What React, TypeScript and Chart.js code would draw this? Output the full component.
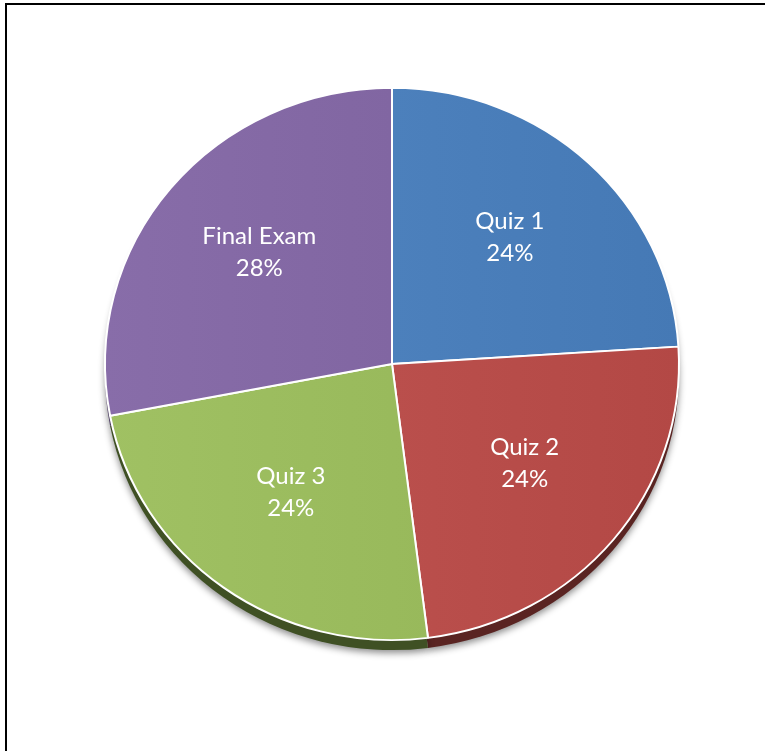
import React, { useEffect, useRef } from "react";
import { Chart, registerables } from "chart.js";

Chart.register(...registerables);

const categories = ["Quiz 1", "Quiz 2", "Quiz 3", "Final Exam"];
const values = [24, 24, 24, 28];
const faceColors = ["#4b7fbb", "#b94e4b", "#98b95b", "#8065a1"];
const sideColors = ["#2a4a70", "#5a2422", "#3f5024", "#4a3a60"];

const SQUASH = 0.962;
const DEPTH = 10;
const LABEL_FRACTION = 0.6;

function shade(hex: string, amt: number) {
  const n = parseInt(hex.slice(1), 16);
  const r = (n >> 16) & 255, g = (n >> 8) & 255, b = n & 255;
  const f = (c: number) => Math.max(0, Math.min(255, Math.round(c + amt)));
  return `rgb(${f(r)},${f(g)},${f(b)})`;
}

const pie3d = {
  id: "pie3d",
  beforeDatasetsDraw(chart: any) {
    const ctx = chart.ctx;
    const meta = chart.getDatasetMeta(0);
    const arcs = meta.data;
    if (!arcs.length) return;
    const p0 = arcs[0].getProps(["x", "y"], true);
    const cx = p0.x, cy = p0.y;
    ctx.save();
    ctx.translate(cx, cy);
    ctx.scale(1, SQUASH);
    ctx.translate(-cx, -cy);
    ctx.save();
    ctx.shadowColor = "rgba(0,0,0,0.45)";
    ctx.shadowBlur = 7;
    ctx.shadowOffsetY = 3;
    arcs.forEach((arc: any, i: number) => {
      const p = arc.getProps(["x", "y", "startAngle", "endAngle", "outerRadius"], true);
      const dy = DEPTH / SQUASH;
      ctx.beginPath();
      ctx.moveTo(p.x, p.y + dy);
      ctx.arc(p.x, p.y + dy, p.outerRadius, p.startAngle, p.endAngle);
      ctx.closePath();
      ctx.fillStyle = sideColors[i];
      ctx.fill();
    });
    ctx.restore();
  },
  afterDatasetsDraw(chart: any) {
    const ctx = chart.ctx;
    ctx.restore();
    const meta = chart.getDatasetMeta(0);
    const total = values.reduce((a, b) => a + b, 0);
    ctx.save();
    ctx.fillStyle = "#ffffff";
    ctx.font = "24px Lato";
    ctx.textAlign = "center";
    ctx.textBaseline = "middle";
    meta.data.forEach((arc: any, i: number) => {
      const p = arc.getProps(["x", "y", "startAngle", "endAngle", "outerRadius"], true);
      const mid = (p.startAngle + p.endAngle) / 2;
      const d = p.outerRadius * LABEL_FRACTION;
      const lx = p.x + Math.cos(mid) * d;
      const ly = p.y - 6 + Math.sin(mid) * d * SQUASH;
      const pct = Math.round((values[i] / total) * 100) + "%";
      ctx.fillText(categories[i], lx, ly - 16);
      ctx.fillText(pct, lx, ly + 16);
    });
    ctx.restore();
  },
};

export default function App() {
  const ref = useRef<HTMLCanvasElement>(null);
  useEffect(() => {
    if (!ref.current) return;
    const chart = new Chart(ref.current, {
      type: "pie",
      data: {
        labels: categories,
        datasets: [
          {
            data: values,
            backgroundColor: (c: any) => {
              const area = c.chart.chartArea;
              const base = faceColors[c.dataIndex % faceColors.length];
              if (!area) return base;
              const g = c.chart.ctx.createLinearGradient(area.left, 0, area.right, 0);
              g.addColorStop(0, shade(base, 8));
              g.addColorStop(1, shade(base, -6));
              return g;
            },
            borderColor: "#ffffff",
            borderWidth: 2,
            hoverOffset: 0,
            clip: false as any,
          },
        ],
      },
      options: {
        responsive: false,
        animation: false,
        layout: { padding: { left: 104, right: 85, top: 76, bottom: 99 } },
        plugins: {
          legend: { display: false },
          tooltip: { enabled: false },
        },
      },
      plugins: [pie3d],
    });
    return () => chart.destroy();
  }, []);

  return (
    <div>
      <div
        style={{
          position: "fixed",
          left: 5,
          top: 3,
          right: 0,
          bottom: 0,
          borderLeft: "2px solid #000",
          borderTop: "2px solid #000",
          background: "#fff",
        }}
      />
      <canvas
        ref={ref}
        width={765}
        height={751}
        style={{ position: "fixed", left: 0, top: 0 }}
      />
    </div>
  );
}
